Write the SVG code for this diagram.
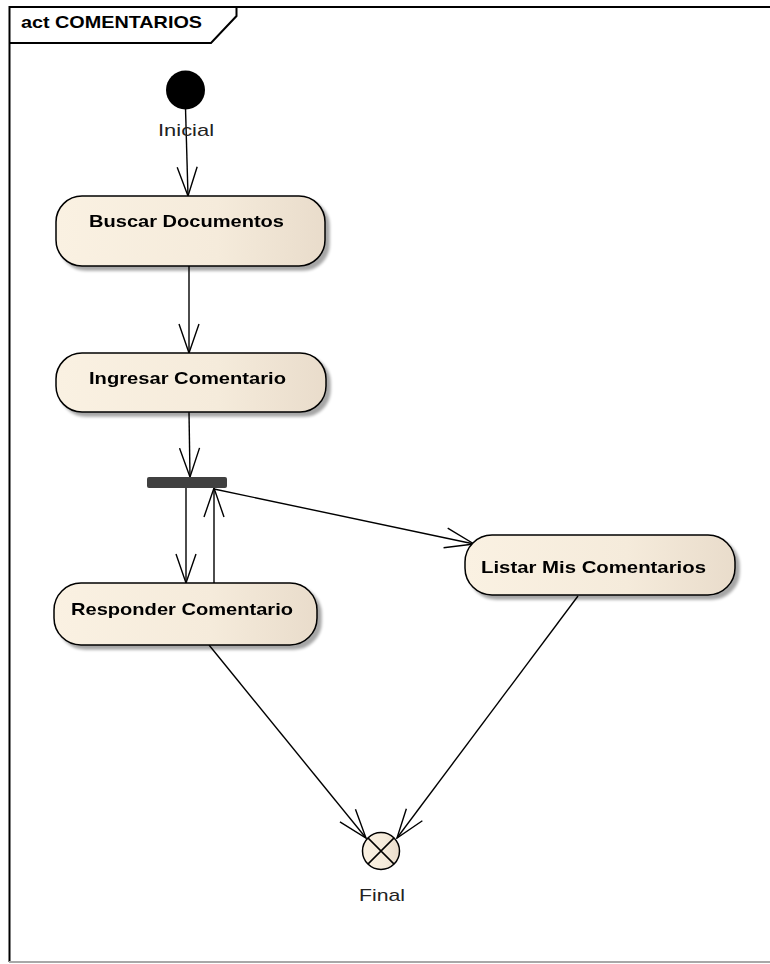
<svg xmlns="http://www.w3.org/2000/svg" width="770" height="964" viewBox="0 0 770 964">
<style>
.act{stroke:#000;stroke-width:1.5;fill:url(#g)}
.lbl{font-family:"Liberation Sans",Arial,sans-serif;font-size:17px;font-weight:bold;fill:#000}
.nm{font-family:"Liberation Sans",Arial,sans-serif;font-size:17px;fill:#222}
.ln{stroke:#000;stroke-width:1.4;fill:none}
</style>
<defs>
<linearGradient id="g" x1="0" y1="0" x2="1" y2="0">
<stop offset="0" stop-color="#faf1e2"/>
<stop offset="0.6" stop-color="#f5ebdb"/>
<stop offset="1" stop-color="#e9dccb"/>
</linearGradient>
<filter id="sh" x="-10%" y="-10%" width="130%" height="140%">
<feGaussianBlur in="SourceAlpha" stdDeviation="1.5"/>
<feOffset dx="4" dy="4" result="b"/>
<feComponentTransfer><feFuncA type="linear" slope="0.35"/></feComponentTransfer>
<feMerge><feMergeNode/><feMergeNode in="SourceGraphic"/></feMerge>
</filter>
<marker id="ar" viewBox="0 0 31 22" refX="30" refY="11" markerWidth="31" markerHeight="22" markerUnits="userSpaceOnUse" orient="auto">
<path d="M1,1 L30,11 L1,21" fill="none" stroke="#000" stroke-width="1.4"/>
</marker>
</defs>
<g id="frame">
<path d="M9.5,962 L9.5,7 L770,7" fill="none" stroke="#000" stroke-width="2"/>
<line x1="9" y1="962" x2="770" y2="962" stroke="#a8a8a8" stroke-width="2"/>
<path d="M236.5,7 L236.5,16 L211,43 L9.5,43" fill="none" stroke="#000" stroke-width="2"/>
<text x="21" y="28" class="lbl" textLength="181" lengthAdjust="spacingAndGlyphs">act COMENTARIOS</text>
</g>
<g id="connectors">
<line class="ln" x1="185.5" y1="108" x2="188" y2="196" marker-end="url(#ar)"/>
<line class="ln" x1="189" y1="266" x2="189" y2="353" marker-end="url(#ar)"/>
<line class="ln" x1="189" y1="412" x2="190" y2="477" marker-end="url(#ar)"/>
<line class="ln" x1="186" y1="488" x2="186" y2="583" marker-end="url(#ar)"/>
<line class="ln" x1="214" y1="583" x2="214" y2="488" marker-end="url(#ar)"/>
<line class="ln" x1="214" y1="489" x2="474" y2="544" marker-end="url(#ar)"/>
<line class="ln" x1="209" y1="645" x2="366" y2="838" marker-end="url(#ar)"/>
<line class="ln" x1="578" y1="596" x2="397" y2="838" marker-end="url(#ar)"/>
</g>
<g id="inicial">
<circle cx="185.5" cy="90" r="19.5" fill="#000"/>
<text x="158" y="136" class="nm" textLength="56" lengthAdjust="spacingAndGlyphs">Inicial</text>
</g>
<g id="buscar" filter="url(#sh)">
<rect class="act" x="56" y="196" width="269" height="70" rx="26" ry="26"/>
<text x="89" y="227" class="lbl" textLength="195" lengthAdjust="spacingAndGlyphs">Buscar Documentos</text>
</g>
<g id="ingresar" filter="url(#sh)">
<rect class="act" x="56" y="353" width="270" height="59" rx="26" ry="26"/>
<text x="89" y="384" class="lbl" textLength="197" lengthAdjust="spacingAndGlyphs">Ingresar Comentario</text>
</g>
<g id="fork">
<rect x="147" y="477" width="80" height="11" rx="2" fill="#404040"/>
</g>
<g id="responder" filter="url(#sh)">
<rect class="act" x="54" y="583" width="263" height="62" rx="27" ry="27"/>
<text x="71" y="615" class="lbl" textLength="222" lengthAdjust="spacingAndGlyphs">Responder Comentario</text>
</g>
<g id="listar" filter="url(#sh)">
<rect class="act" x="465" y="535" width="270" height="60" rx="27" ry="27"/>
<text x="481" y="573" class="lbl" textLength="225" lengthAdjust="spacingAndGlyphs">Listar Mis Comentarios</text>
</g>
<g id="final">
<circle cx="381" cy="851" r="18.5" fill="url(#g)" stroke="#000" stroke-width="1.5"/>
<path d="M367.9,837.9 L394.1,864.1 M394.1,837.9 L367.9,864.1" stroke="#000" stroke-width="1.5"/>
<text x="359" y="901" class="nm" textLength="46" lengthAdjust="spacingAndGlyphs">Final</text>
</g>
</svg>
